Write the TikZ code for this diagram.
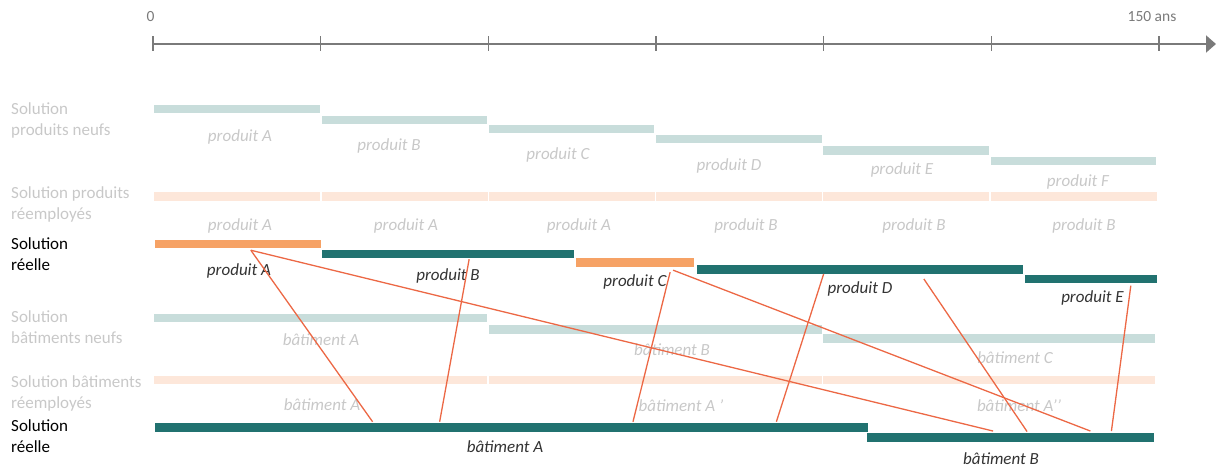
\documentclass[tikz,border=0pt]{standalone}
\usepackage{fontspec}
\setmainfont{Carlito}
\usetikzlibrary{arrows.meta, calc, positioning}
\definecolor{axisgrey}{RGB}{122,122,122}
\definecolor{labelgrey}{RGB}{200,200,200}
\definecolor{darktext}{RGB}{51,51,51}
\definecolor{newbar}{RGB}{200,221,219}
\definecolor{reusebar}{RGB}{253,231,218}
\definecolor{realorange}{RGB}{246,162,101}
\definecolor{realteal}{RGB}{33,114,112}
\definecolor{linkred}{RGB}{236,104,69}
\tikzset{bar/.style={anchor=west, inner sep=0pt, minimum height=8.5pt}}
\tikzset{rowlabel/.style={anchor=west, inner sep=0pt, align=left, font=\fontsize{17}{21}\selectfont}}
\tikzset{barlabel/.style={anchor=center, inner sep=0pt, font=\fontsize{17}{20}\selectfont\itshape}}
\tikzset{link/.style={draw=linkred, line width=1.3pt}}

\begin{document}
\begin{tikzpicture}[x=1pt, y=-1pt]
\useasboundingbox (0,0) rectangle (1216,468);

% time axis
\coordinate (axstart) at (153,44);
\coordinate (axend) at (1216,44);
\draw[axisgrey, line width=2pt, -{Triangle[length=10pt, width=17pt]}] (axstart) -- (axend);
\foreach \i in {0,...,6}{
    \draw[axisgrey, line width=1.6pt] ($(axstart)+(\i*167.67,-7.5)$) -- ($(axstart)+(\i*167.67,7.5)$);
}
\node[text=axisgrey, font=\fontsize{15.5}{18}\selectfont] (t0) at (150.5,17) {0};
\node[text=axisgrey, font=\fontsize{15.5}{18}\selectfont] (t150) at (1152,17) {150 ans};

% row labels
\node[rowlabel, text=labelgrey] (row1) at (11,120) {Solution\\produits neufs};
\node[rowlabel, text=labelgrey] (row2) at (11,204) {Solution produits\\réemployés};
\node[rowlabel, text=black] (row3) at (11,254) {Solution\\réelle};
\node[rowlabel, text=labelgrey] (row4) at (11,327) {Solution\\bâtiments neufs};
\node[rowlabel, text=labelgrey] (row5) at (11,393.5) {Solution bâtiments\\réemployés};
\node[rowlabel, text=black] (row6) at (11,436.5) {Solution\\réelle};

% produits neufs
\foreach \n/\xa/\yy/\w in {A/154/109/166, B/322/120/165, C/489/129/165, D/656/139/166, E/823/150.5/166, F/991/161/165}{
    \node[bar, fill=newbar, minimum width=\w pt] (PN\n) at (\xa,\yy) {};
}
\foreach \n/\xx/\yy in {A/240/136.5, B/389/146, C/558/155, D/729/165.5, E/902/169.5, F/1078/181.5}{
    \node[barlabel, text=labelgrey] (LPN\n) at (\xx,\yy) {produit \n};
}

% produits reemployes
\foreach \i/\xa in {1/154, 2/322, 3/489, 4/656, 5/823, 6/991}{
    \node[bar, fill=reusebar, minimum width=165.5pt] (PR\i) at (\xa,196.5) {};
}
\foreach \i/\n/\xx in {1/A/240, 2/A/406, 3/A/579, 4/B/746, 5/B/914, 6/B/1084}{
    \node[barlabel, text=labelgrey] (LPR\i) at (\xx,225.5) {produit \n};
}

% solution reelle, produits
\node[bar, fill=realorange, minimum width=166pt] (rA) at (155,243.8) {};
\node[bar, fill=realteal,   minimum width=252pt] (rB) at (322,253.8) {};
\node[bar, fill=realorange, minimum width=118pt] (rC) at (576,262.7) {};
\node[bar, fill=realteal,   minimum width=326pt] (rD) at (697,269.5) {};
\node[bar, fill=realteal,   minimum width=132pt] (rE) at (1024.5,279.2) {};
\node[barlabel, text=darktext] (LrA) at (239,270.5) {produit A};
\node[barlabel, text=darktext] (LrB) at (448,276) {produit B};
\node[barlabel, text=darktext] (LrC) at (635,281.5) {produit C};
\node[barlabel, text=darktext] (LrD) at (860,288.5) {produit D};
\node[barlabel, text=darktext] (LrE) at (1092.5,297.5) {produit E};

% batiments neufs
\node[bar, fill=newbar, minimum width=333pt] (BNA) at (154,318.2) {};
\node[bar, fill=newbar, minimum width=333pt] (BNB) at (489,329.4) {};
\node[bar, fill=newbar, minimum width=332.5pt] (BNC) at (822.5,338.7) {};
\node[barlabel, text=labelgrey] (LBNA) at (321,339.5) {bâtiment A};
\node[barlabel, text=labelgrey] (LBNB) at (672,349.5) {bâtiment B};
\node[barlabel, text=labelgrey] (LBNC) at (1015,357.5) {bâtiment C};

% batiments reemployes
\node[bar, fill=reusebar, minimum width=333pt] (BR1) at (154,380.2) {};
\node[bar, fill=reusebar, minimum width=333pt] (BR2) at (489,380.2) {};
\node[bar, fill=reusebar, minimum width=332pt] (BR3) at (823,380.2) {};
\node[barlabel, text=labelgrey] (LBR1) at (322,405) {bâtiment A};
\node[barlabel, text=labelgrey] (LBR2) at (681,405.5) {bâtiment A ’};
\node[barlabel, text=labelgrey] (LBR3) at (1019,405.5) {bâtiment A’’};

% solution reelle, batiments
\node[bar, fill=realteal, minimum width=713pt] (rbA) at (155,427.7) {};
\node[bar, fill=realteal, minimum width=287.5pt] (rbB) at (866.7,437.5) {};
\node[barlabel, text=darktext] (LrbA) at (505,446.5) {bâtiment A};
\node[barlabel, text=darktext] (LrbB) at (1001,459) {bâtiment B};

% links produit -> batiment
\draw[link] ($(rA.south west)!0.576!(rA.south east)+(0,2)$) -- ($(rbA.north west)!0.305!(rbA.north east)+(0,-1.5)$);
\draw[link] ($(rA.south west)!0.576!(rA.south east)+(0,2)$) -- ($(rbB.north west)!0.439!(rbB.north east)+(0,-2)$);
\draw[link] ($(rB.south west)!0.583!(rB.south east)+(0,1)$) -- ($(rbA.north west)!0.399!(rbA.north east)+(0,-1.5)$);
\draw[link] ($(rC.south west)!0.795!(rC.south east)+(0,5)$) -- ($(rbA.north west)!0.670!(rbA.north east)+(0,-1.5)$);
\draw[link] ($(rC.south west)!0.82!(rC.south east)+(0,3)$) -- ($(rbB.north west)!0.777!(rbB.north east)+(0,-2)$);
\draw[link] ($(rD.south west)!0.388!(rD.south east)+(0,0)$) -- ($(rbA.north west)!0.871!(rbA.north east)+(0,-1.5)$);
\draw[link] ($(rD.south west)!0.695!(rD.south east)+(0,5)$) -- ($(rbB.north west)!0.557!(rbB.north east)+(0,-1.5)$);
\draw[link] ($(rE.south west)!0.803!(rE.south east)+(0,2)$) -- ($(rbB.north west)!0.850!(rbB.north east)+(0,-2)$);

\end{tikzpicture}
\end{document}
